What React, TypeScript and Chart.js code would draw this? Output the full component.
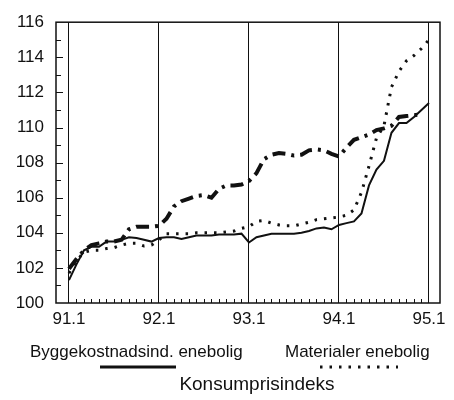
import React, { useEffect, useRef } from 'react';
import { Chart, registerables } from 'chart.js';

Chart.register(...registerables);

// Monthly index values, 91.1 .. 95.1 (month 0 .. 48)
const xTickPositions = [0, 12, 24, 36, 48];
const xTickLabels = ['91.1', '92.1', '93.1', '94.1', '95.1'];

const byggekostnad = [
  101.3, 102.2, 103.0, 103.2, 103.2, 103.5, 103.5, 103.6, 103.75, 103.7, 103.6, 103.5,
  103.7, 103.75, 103.75, 103.65, 103.75, 103.85, 103.85, 103.85, 103.9, 103.9, 103.9, 103.95,
  103.45, 103.75, 103.85, 103.95, 103.95, 103.95, 103.95, 104.0, 104.1, 104.25, 104.3, 104.2,
  104.45, 104.55, 104.65, 105.1, 106.7, 107.6, 108.1, 109.7, 110.25, 110.25, 110.6, 111.0,
  111.4,
];

const materialer = [
  101.7, 102.4, 102.9, 103.0, 103.0, 103.1, 103.15, 103.3, 103.4, 103.4, 103.25, 103.3,
  103.6, 103.95, 103.95, 103.95, 103.95, 104.0, 104.0, 104.0, 104.0, 104.05, 104.1, 104.25,
  104.35, 104.65, 104.7, 104.55, 104.45, 104.4, 104.4, 104.5, 104.6, 104.75, 104.8, 104.85,
  104.9, 105.0, 105.3, 106.3, 107.8, 109.4, 110.1, 112.3, 113.2, 113.8, 114.1, 114.5,
  115.0,
];

const konsumpris = [
  101.95, 102.5, 103.0, 103.3, 103.4, 103.5, 103.5, 103.6, 104.2, 104.35, 104.35, 104.35,
  104.4, 104.8, 105.5, 105.8, 105.95, 106.1, 106.15, 106.0, 106.5, 106.7, 106.7, 106.75,
  106.95, 107.4, 108.2, 108.45, 108.55, 108.5, 108.4, 108.45, 108.7, 108.75, 108.7, 108.5,
  108.35, 108.85, 109.3, 109.45, 109.6, 109.85, 109.95, 110.1, 110.6, 110.65, 110.7, 110.75,
];

const legendLabels = ['Byggekostnadsind. enebolig', 'Materialer enebolig', 'Konsumprisindeks'];

const FONT = "'Liberation Sans', Arial, Helvetica, sans-serif";
const INK = '#111111';

export default function App() {
  const ref = useRef<HTMLCanvasElement>(null);

  useEffect(() => {
    if (!ref.current) return;
    const toPts = (arr: number[]) => arr.map((y, i) => ({ x: i, y }));

    const framePlugin = {
      id: 'frameAndLegend',
      afterDraw(chart: any) {
        const { ctx, chartArea, scales } = chart;
        const { left, right, top, bottom } = chartArea;
        const xs = scales.x;
        const ys = scales.y;
        ctx.save();
        ctx.strokeStyle = INK;
        ctx.lineWidth = 1.5;
        ctx.strokeRect(left, top, right - left, bottom - top);
        // y ticks (inside)
        ctx.lineWidth = 1;
        for (let v = 101; v < 116; v++) {
          const py = Math.round(ys.getPixelForValue(v)) + 0.5;
          ctx.beginPath();
          ctx.moveTo(left, py);
          ctx.lineTo(left + (v % 2 === 0 ? 7 : 5), py);
          ctx.stroke();
        }
        // x monthly ticks (inside)
        for (let i = 1; i < 48; i++) {
          if (i % 12 === 0) continue;
          const px = Math.round(xs.getPixelForValue(i)) + 0.5;
          ctx.beginPath();
          ctx.moveTo(px, bottom);
          ctx.lineTo(px, bottom - 4);
          ctx.stroke();
        }
        // legend
        ctx.fillStyle = INK;
        ctx.font = `17px ${FONT}`;
        ctx.textBaseline = 'middle';
        ctx.textAlign = 'left';
        ctx.fillText(legendLabels[0], 30, 352);
        ctx.fillText(legendLabels[1], 285, 352);
        ctx.textAlign = 'center';
        ctx.font = `19px ${FONT}`;
        ctx.fillText(legendLabels[2], 257, 385);
        // samples
        ctx.lineWidth = 3;
        ctx.setLineDash([]);
        ctx.beginPath();
        ctx.moveTo(100, 367);
        ctx.lineTo(176, 367);
        ctx.stroke();
        ctx.setLineDash([2.5, 7]);
        ctx.beginPath();
        ctx.moveTo(320, 367);
        ctx.lineTo(398, 367);
        ctx.stroke();
        ctx.restore();
      },
    };

    const chart = new Chart(ref.current, {
      type: 'line',
      data: {
        datasets: [
          {
            label: legendLabels[0],
            data: toPts(byggekostnad),
            borderColor: INK,
            borderWidth: 2,
            pointRadius: 0,
            tension: 0,
          },
          {
            label: legendLabels[1],
            data: toPts(materialer),
            borderColor: INK,
            borderWidth: 3,
            borderDash: [2.5, 7],
            pointRadius: 0,
            tension: 0,
          },
          {
            label: legendLabels[2],
            data: toPts(konsumpris),
            borderColor: INK,
            borderWidth: 4,
            borderDash: [13, 6, 3, 6],
            pointRadius: 0,
            tension: 0,
          },
        ],
      },
      options: {
        animation: false,
        responsive: false,
        devicePixelRatio: 1,
        layout: { padding: { top: 17, right: 14, left: 0, bottom: 0 } },
        plugins: { legend: { display: false }, tooltip: { enabled: false } },
        scales: {
          x: {
            type: 'linear',
            min: -1.73,
            max: 49.47,
            afterBuildTicks: (scale: any) => {
              scale.ticks = xTickPositions.map((v) => ({ value: v }));
            },
            afterFit: (scale: any) => {
              scale.height = 97;
            },
            ticks: {
              autoSkip: false,
              maxRotation: 0,
              padding: 6,
              color: INK,
              font: { family: FONT, size: 17 },
              callback: (_v: any, idx: number) => xTickLabels[idx],
            },
            grid: { color: INK, lineWidth: 1, drawTicks: false, drawOnChartArea: true },
            border: { display: false },
          },
          y: {
            min: 100,
            max: 116,
            afterFit: (scale: any) => {
              scale.width = 56;
            },
            ticks: {
              stepSize: 2,
              padding: 12,
              color: INK,
              font: { family: FONT, size: 17 },
            },
            grid: { display: false, drawTicks: false },
            border: { display: false },
          },
        },
      },
      plugins: [framePlugin],
    });
    return () => chart.destroy();
  }, []);

  return (
    <div style={{ position: 'fixed', left: 0, top: 0, width: 454, height: 400, background: '#fff' }}>
      <canvas ref={ref} width={454} height={400} style={{ display: 'block', width: 454, height: 400 }} />
    </div>
  );
}
